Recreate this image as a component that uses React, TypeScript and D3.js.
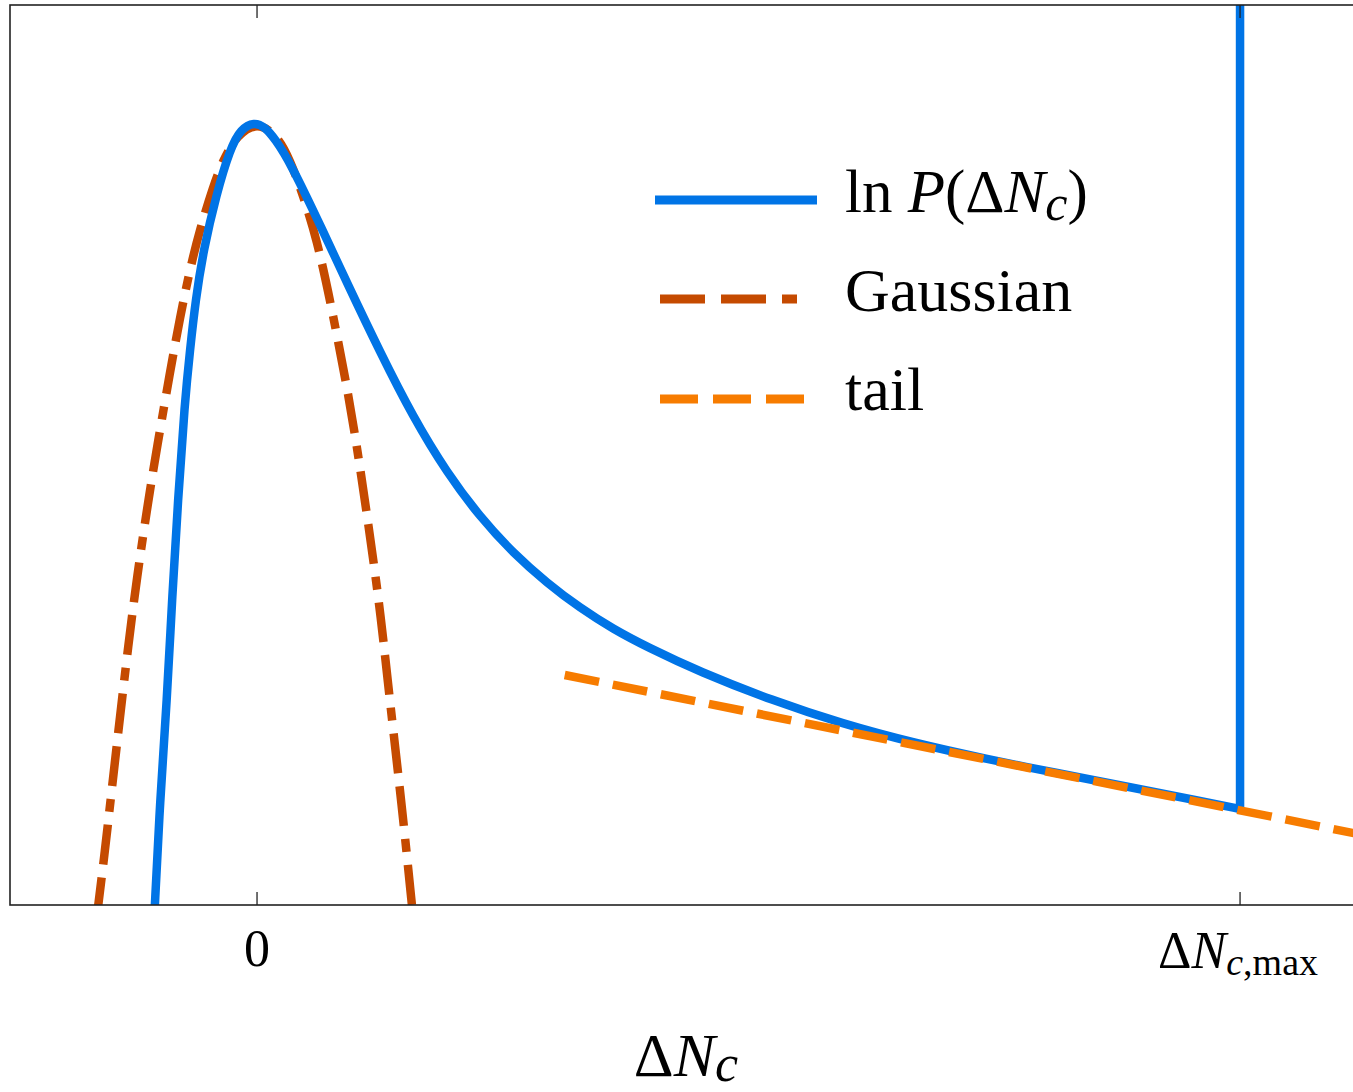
import React from "react";
import * as d3 from "d3";

// x in units of ΔN_c,max (0 = mode, 1 = ΔN_c,max); y = ln P relative to the peak
const xTickValues = [0, 1];
const legendLabels = ["ln P(ΔN_c)", "Gaussian", "tail"];

const lnP: [number, number][] = [
  [-0.1045, -7.9], [-0.0987, -6.73], [-0.0916, -5.73], [-0.0865, -4.73],
  [-0.0804, -3.73], [-0.0735, -2.75], [-0.0682, -2.23], [-0.0625, -1.73],
  [-0.0545, -1.23], [-0.0415, -0.68], [-0.0275, -0.22], [-0.0165, -0.02],
  [-0.003, 0.05], [0.0081, 0.0], [0.0183, -0.12], [0.0336, -0.35],
  [0.0671, -1.04], [0.0916, -1.56], [0.1251, -2.25], [0.1587, -2.9],
  [0.1933, -3.46], [0.2269, -3.9], [0.2604, -4.26], [0.295, -4.56],
  [0.3286, -4.81], [0.3622, -5.02], [0.3967, -5.2], [0.4507, -5.45],
  [0.5229, -5.73], [0.5961, -5.97], [0.6684, -6.16], [0.7416, -6.32],
  [0.8138, -6.46], [0.8871, -6.6], [0.9593, -6.74], [1.0, -6.82],
];

const spike: [number, number][] = [
  [1.0, -6.82],
  [1.0, 1.3],
];

const gaussian: [number, number][] = [
  [-0.163, -7.9], [-0.1546, -7.23], [-0.1475, -6.6], [-0.1394, -5.9],
  [-0.1312, -5.2], [-0.1221, -4.5], [-0.1109, -3.75], [-0.1017, -3.2],
  [-0.0885, -2.45], [-0.0783, -1.9], [-0.0682, -1.42], [-0.058, -1.02],
  [-0.0448, -0.6], [-0.0346, -0.33], [-0.0203, -0.08], [0.0, 0.05],
  [0.0203, -0.08], [0.0336, -0.33], [0.0468, -0.68], [0.061, -1.13],
  [0.0743, -1.73], [0.0916, -2.6], [0.1017, -3.2], [0.1119, -3.88],
  [0.1221, -4.6], [0.1282, -5.1], [0.1353, -5.75], [0.1434, -6.45],
  [0.1506, -7.1], [0.1577, -7.8], [0.16, -8.0],
];

const tail: [number, number][] = [
  [0.313, -5.48],
  [1.12, -7.07],
];

const BLUE = "#0074e6";
const RED = "#c54a00";
const ORANGE = "#f77c00";
const FONT = "'Liberation Serif', 'Times New Roman', serif";

export default function App() {
  const W = 1353;
  const H = 1092;
  const left = 10, right = 1353, top = 5, bottom = 905;
  const x = d3.scaleLinear().domain([-0.2513, 1.1149]).range([left, right]);
  const y = d3.scaleLinear().domain([-7.78, 1.22]).range([bottom, top]);

  const smooth = d3
    .line<[number, number]>()
    .x((d) => x(d[0]))
    .y((d) => y(d[1]))
    .curve(d3.curveBasis);
  const straight = d3
    .line<[number, number]>()
    .x((d) => x(d[0]))
    .y((d) => y(d[1]));

  const lx0 = 655;
  const legendRows = [
    { y: 200, color: BLUE, dash: undefined as string | undefined, x1: 817 },
    { y: 299, color: RED, dash: "45,16,45,16,15,16", x1: 797 },
    { y: 399, color: ORANGE, dash: "38,15", x1: 805 },
  ];

  return (
    <svg
      width={W}
      height={H}
      style={{ position: "absolute", left: 0, top: 0, background: "#fff" }}
      fontFamily={FONT}
    >
      <defs>
        <clipPath id="plot">
          <rect x={left} y={top} width={right - left + 2} height={bottom - top} />
        </clipPath>
      </defs>
      <rect x={0} y={0} width={W} height={H} fill="#fff" />

      <g clipPath="url(#plot)" fill="none" strokeWidth={8.5}>
        <path d={smooth(gaussian) || ""} stroke={RED} strokeDasharray="40,13,40,13,13,13" />
        <path d={smooth(lnP) || ""} stroke={BLUE} strokeLinejoin="round" />
        <path d={straight(spike) || ""} stroke={BLUE} />
        <path d={straight(tail) || ""} stroke={ORANGE} strokeDasharray="35,14" />
      </g>

      {/* frame */}
      <rect
        x={left}
        y={top}
        width={right - left + 4}
        height={bottom - top}
        fill="none"
        stroke="#222"
        strokeWidth={1.6}
      />
      {xTickValues.map((t) => (
        <g key={t}>
          <line x1={x(t)} x2={x(t)} y1={bottom} y2={bottom - 13} stroke="#222" strokeWidth={1.3} />
          <line x1={x(t)} x2={x(t)} y1={top} y2={top + 13} stroke="#222" strokeWidth={1.3} />
        </g>
      ))}

      {/* tick labels */}
      <text x={x(xTickValues[0])} y={966} fontSize={52} textAnchor="middle" fill="#000">
        0
      </text>
      <text x={x(xTickValues[1]) - 2} y={968} fontSize={52} textAnchor="middle" fill="#000">
        <tspan>Δ</tspan>
        <tspan fontStyle="italic">N</tspan>
        <tspan fontSize={38} dy={7}>
          <tspan fontStyle="italic">c</tspan>,max
        </tspan>
      </text>

      {/* axis label */}
      <text x={686} y={1076} fontSize={62} textAnchor="middle" fill="#000">
        <tspan>Δ</tspan>
        <tspan fontStyle="italic">N</tspan>
        <tspan fontStyle="italic" fontSize={52} dy={5}>
          c
        </tspan>
      </text>

      {/* legend */}
      {legendRows.map((r, i) => (
        <line
          key={i}
          x1={i === 0 ? lx0 : lx0 + 5}
          x2={r.x1}
          y1={r.y}
          y2={r.y}
          stroke={r.color}
          strokeWidth={9}
          strokeDasharray={r.dash}
        />
      ))}
      <text x={845} y={212} fontSize={61} fill="#000">
        <tspan>ln </tspan>
        <tspan fontStyle="italic">P</tspan>
        <tspan>(Δ</tspan>
        <tspan fontStyle="italic">N</tspan>
        <tspan fontStyle="italic" fontSize={50} dy={8}>
          c
        </tspan>
        <tspan dy={-8}>)</tspan>
      </text>
      <text x={845} y={311} fontSize={62} fill="#000">
        {legendLabels[1]}
      </text>
      <text x={845} y={410} fontSize={62} fill="#000">
        {legendLabels[2]}
      </text>
    </svg>
  );
}
